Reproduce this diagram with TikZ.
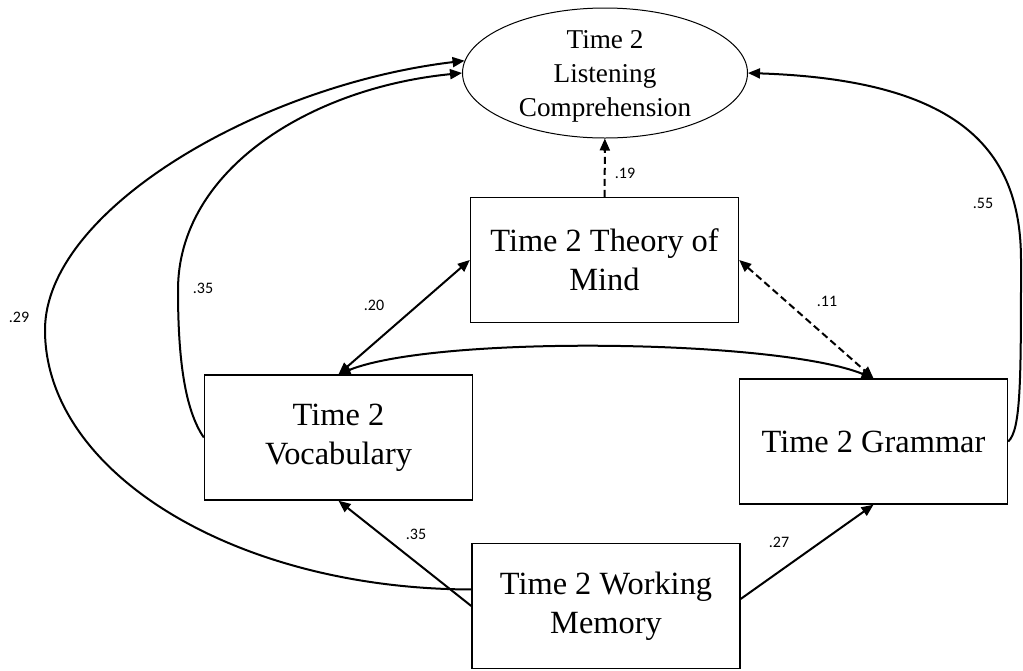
\documentclass[tikz,border=0pt]{standalone}
\usepackage{fontspec}
\setmainfont{Liberation Serif}
\newfontfamily\lblfont{Carlito}
\usetikzlibrary{shapes.geometric,arrows.meta}

\begin{document}
\begin{tikzpicture}[x=0.5pt,y=0.5pt,
	var/.style={shape=rectangle,draw=black,line width=0.7pt,minimum width=134pt,minimum height=62.5pt,align=center,font=\fontsize{16.2}{19.5}\selectfont},
	lat/.style={shape=ellipse,draw=black,line width=0.5pt,minimum width=142.5pt,minimum height=65pt,inner xsep=0pt,inner ysep=-3pt,align=center,font=\fontsize{13.6}{17}\selectfont},
	coef/.style={font=\lblfont\fontsize{8}{9.6}\selectfont,inner sep=0pt},
	arr/.style={-{Triangle[length=6pt,width=5pt]},line width=1pt},
	dbl/.style={{Triangle[length=6pt,width=5pt]}-{Triangle[length=6pt,width=5pt]},line width=1pt},
	dsh/.style={dash pattern=on 3.5pt off 2pt}]
	
	\useasboundingbox (0,0) rectangle (1023,-670);
	
	\node[lat] (lc)   at (605,-73)      {\rule{0pt}{12pt}Time 2\\Listening\\Comprehension};
	\node[var] (tom)  at (604.5,-260)   {Time 2 Theory of\\Mind};
	\node[var] (voc)  at (338.5,-437.5) {Time 2\\Vocabulary};
	\node[var] (gram) at (873.5,-441.5) {Time 2 Grammar};
	\node[var] (wm)   at (606,-606)     {Time 2 Working\\Memory};
	
	\draw[arr,dsh] (tom) -- (lc);
	\draw[dbl] (voc.north) -- (tom.west);
	\draw[dbl,dsh] (tom.east) -- (gram.north);
	\draw[dbl] (voc.north) to[out=22,in=158,looseness=0.5] (gram.north);
	\draw[arr] (wm.west) -- (voc.south);
	\draw[arr] (wm.3) -- (gram.south);
	
	% paths round the outside up to the ellipse
	\draw[arr] (voc.west) .. controls (185,-410) and (178,-360) .. (178,-290)
		.. controls (178,-170) and (310,-88) .. (lc.180);
	\draw[arr] (wm.173) .. controls (236,-589) and (45,-473) .. (45,-330)
		.. controls (45,-210) and (260,-85) .. (lc.175);
	\draw[arr] (gram.east) .. controls (1021,-430) and (1021,-380) .. (1021,-260)
		.. controls (1021,-150) and (960,-80) .. (lc.east);
	
	\node[coef] (c19)  at (625,-173) {.19};
	\node[coef] (c20)  at (374,-305) {.20};
	\node[coef] (c11)  at (827,-301) {.11};
	\node[coef] (c55)  at (983,-203) {.55};
	\node[coef] (c35a) at (203,-288) {.35};
	\node[coef] (c29)  at (19,-317)  {.29};
	\node[coef] (c35b) at (416,-534) {.35};
	\node[coef] (c27)  at (779,-542) {.27};
	
\end{tikzpicture}
\end{document}
